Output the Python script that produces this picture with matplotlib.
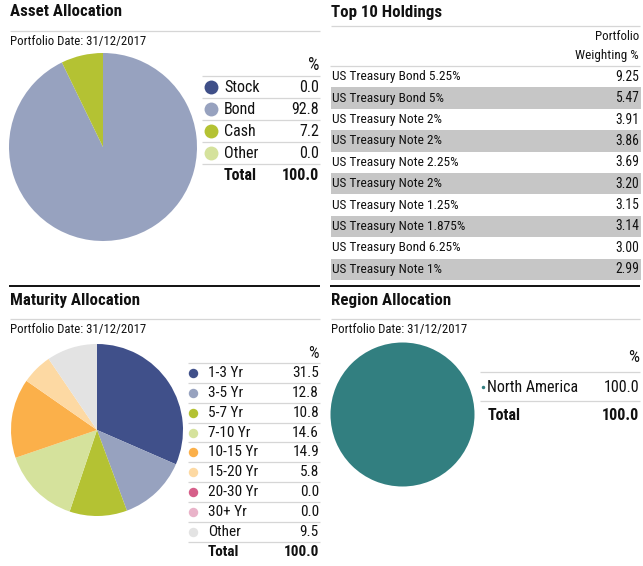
import matplotlib
matplotlib.use('Agg')
import matplotlib.pyplot as plt
from matplotlib import font_manager as fm

# pick an Arial-Narrow-like family that has both regular and bold faces
_fonts = {}
for f in fm.fontManager.ttflist:
    _fonts.setdefault(f.name, set()).add(f.weight)
FONT = 'DejaVu Sans'
for cand in ['Liberation Sans Narrow', 'Arial Narrow', 'Roboto Condensed', 'PT Sans Narrow',
             'IBM Plex Sans Condensed', 'Fira Sans Condensed', 'Asap Condensed',
             'Encode Sans Condensed', 'Archivo Narrow']:
    w = _fonts.get(cand)
    if w and (700 in w or 'bold' in w) and (400 in w or 'normal' in w or 'regular' in w):
        FONT = cand
        break
plt.rcParams['font.family'] = [FONT, 'DejaVu Sans']

# ---------------- data ----------------
asset_labels = ['Stock', 'Bond', 'Cash', 'Other']
asset_values = [0.0, 92.8, 7.2, 0.0]
asset_total = 100.0
asset_colors = ['#3f4f88', '#97a2bf', '#b4c233', '#d5e29c']

holding_names = ['US Treasury Bond 5.25%', 'US Treasury Bond 5%', 'US Treasury Note 2%',
                 'US Treasury Note 2%', 'US Treasury Note 2.25%', 'US Treasury Note 2%',
                 'US Treasury Note 1.25%', 'US Treasury Note 1.875%', 'US Treasury Bond 6.25%',
                 'US Treasury Note 1%']
holding_weights = [9.25, 5.47, 3.91, 3.86, 3.69, 3.20, 3.15, 3.14, 3.00, 2.99]

maturity_labels = ['1-3 Yr', '3-5 Yr', '5-7 Yr', '7-10 Yr', '10-15 Yr', '15-20 Yr',
                   '20-30 Yr', '30+ Yr', 'Other']
maturity_values = [31.5, 12.8, 10.8, 14.6, 14.9, 5.8, 0.0, 0.0, 9.5]
maturity_total = 100.0
maturity_colors = ['#40508a', '#97a2bf', '#b4c233', '#d5e29c', '#fbb04a', '#fdd9a3',
                   '#d65f8a', '#e9b3c9', '#e3e3e3']

region_labels = ['North America']
region_values = [100.0]
region_total = 100.0
region_colors = ['#327f80']

date_text = 'Portfolio Date: 31/12/2017'

# ---------------- layout ----------------
W, H = 643, 566
fig = plt.figure(figsize=(W / 100, H / 100), dpi=100)
fig.patch.set_facecolor('white')
bg = fig.add_axes([0, 0, 1, 1])
bg.set_xlim(0, W)
bg.set_ylim(H, 0)
bg.axis('off')

SEP = '#d6d6d6'
TXT = '#111111'


def hline(y, x0, x1, color=SEP, lw=0.9):
    bg.plot([x0, x1], [y, y], color=color, lw=lw, solid_capstyle='butt')


def txt(x, y, s, size=10, ha='left', weight='normal'):
    bg.text(x, y, s, fontsize=size, ha=ha, va='center', color=TXT, fontweight=weight)


def pie_ax(cx, cy, r, values, colors):
    ax = fig.add_axes([(cx - r) / W, (H - cy - r) / H, 2 * r / W, 2 * r / H])
    ax.pie(values, colors=colors, startangle=90, counterclock=False, radius=1,
           wedgeprops=dict(linewidth=0))
    ax.set_xlim(-1, 1)
    ax.set_ylim(-1, 1)
    ax.axis('off')
    return ax


def section_header(x0, x1, title, y_title, y_line, y_date=None, top_line=None):
    if top_line is not None:
        hline(top_line, x0 - 1, x1, color='#111111', lw=1.4)
    txt(x0, y_title, title, size=12.2, weight='bold')
    hline(y_line, x0, x1)
    if y_date is not None:
        txt(x0, y_date, date_text, size=9.2)


# Asset Allocation
section_header(10, 320, 'Asset Allocation', 12, 31, 42)
pie_ax(103, 147, 94, asset_values, asset_colors)
txt(319, 65, '%', size=13, ha='right')
row_h = 22
for i, (lab, val, col) in enumerate(zip(asset_labels, asset_values, asset_colors)):
    y = 87 + i * row_h
    hline(y - 11, 202, 320)
    bg.plot([211], [y], 'o', ms=10, color=col, mec='none')
    txt(224, y, lab, size=11.5)
    txt(319, y, f'{val:.1f}', size=11.5, ha='right')
hline(87 + 4 * row_h - 11, 202, 320)
txt(224, 87 + 4 * row_h, 'Total', size=11.5, weight='bold')
txt(319, 87 + 4 * row_h, f'{asset_total:.1f}', size=11.5, ha='right', weight='bold')

# Top 10 Holdings
section_header(331, 640, 'Top 10 Holdings', 12, 26)
txt(639, 37, 'Portfolio', size=9.3, ha='right')
txt(639, 55, 'Weighting %', size=9.5, ha='right')
hline(66, 330, 640)
rh = 21.4
for i, (nm, w) in enumerate(zip(holding_names, holding_weights)):
    y0 = 66 + i * rh
    if i % 2 == 1:
        bg.add_patch(plt.Rectangle((331, y0), 310, rh, color='#c6c6c6', lw=0))
    txt(332, y0 + rh / 2, nm, size=9.6)
    txt(639, y0 + rh / 2, f'{w:.2f}', size=9.8, ha='right')

# Maturity Allocation
section_header(10, 320, 'Maturity Allocation', 300, 319, 330, top_line=286)
pie_ax(97, 430, 86, maturity_values, maturity_colors)
txt(319, 353, '%', size=12, ha='right')
mh = 19.85
for i, (lab, val, col) in enumerate(zip(maturity_labels, maturity_values, maturity_colors)):
    y = 373 + i * mh
    hline(y - mh / 2, 188, 320)
    bg.plot([193], [y], 'o', ms=6.8, color=col, mec='none')
    txt(208, y, lab, size=11)
    txt(319, y, f'{val:.1f}', size=11, ha='right')
yt = 373 + len(maturity_labels) * mh
hline(yt - mh / 2, 188, 320)
txt(208, yt, 'Total', size=11, weight='bold')
txt(319, yt, f'{maturity_total:.1f}', size=11, ha='right', weight='bold')

# Region Allocation
section_header(331, 640, 'Region Allocation', 300, 319, 330, top_line=286)
pie_ax(402.5, 414.5, 72, region_values, region_colors)
txt(639, 357, '%', size=12.5, ha='right')
for i, (lab, val, col) in enumerate(zip(region_labels, region_values, region_colors)):
    y = 387 + i * 29
    hline(y - 15, 480, 640)
    bg.plot([483], [y], 'o', ms=2.5, color=col, mec='none')
    txt(487, y, lab, size=11.5)
    txt(639, y, f'{val:.1f}', size=11.5, ha='right')
hline(401, 480, 640)
txt(488, 416, 'Total', size=11.5, weight='bold')
txt(639, 416, f'{region_total:.1f}', size=11.5, ha='right', weight='bold')

fig.savefig('out.png', dpi=100, facecolor='white')
